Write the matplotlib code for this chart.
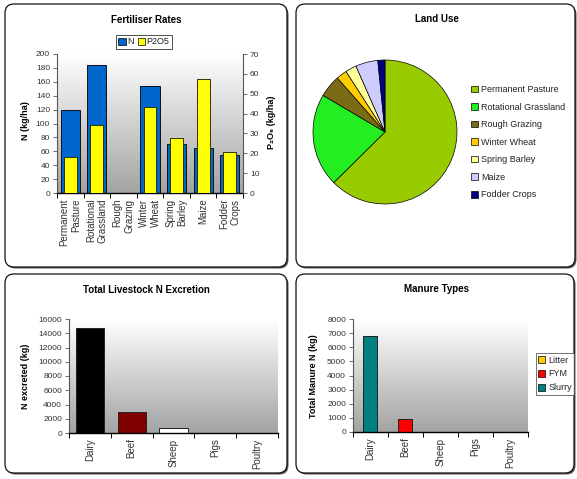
import numpy as np
import matplotlib
matplotlib.use('Agg')
import matplotlib.pyplot as plt
from matplotlib.patches import FancyBboxPatch, Patch
from matplotlib.colors import LinearSegmentedColormap

plt.rcParams['font.family'] = ['Liberation Sans', 'DejaVu Sans']

# ---- data ----
crops = ['Permanent\nPasture', 'Rotational\nGrassland', 'Rough\nGrazing',
         'Winter\nWheat', 'Spring\nBarley', 'Maize', 'Fodder\nCrops']
n_rate = [120, 184, 0, 154, 71, 65, 55]
p2o5_rate = [18, 34, 0, 43.5, 27.5, 57.5, 20.5]

land_use_labels = ['Permanent Pasture', 'Rotational Grassland', 'Rough Grazing',
                   'Winter Wheat', 'Spring Barley', 'Maize', 'Fodder Crops']
land_use_share = [62.6, 20.9, 5.0, 2.4, 2.5, 5.0, 1.6]
land_use_colors = ['#99CC00', '#22EE22', '#7A6B14', '#FFCC00', '#FFFF99', '#CCCCFF', '#000080']

livestock = ['Dairy', 'Beef', 'Sheep', 'Pigs', 'Poultry']
n_excreted = [14800, 3000, 750, 0, 0]
livestock_colors = ['#000000', '#800000', '#FFFFFF', '#FFFFFF', '#FFFFFF']

manure_litter = [0, 0, 0, 0, 0]
manure_fym = [0, 950, 0, 0, 0]
manure_slurry = [6800, 0, 30, 0, 0]

# ---- figure / helpers (pixel based layout) ----
W, H = 577, 479
fig = plt.figure(figsize=(W / 100, H / 100), dpi=100)
canvas = fig.add_axes([0, 0, 1, 1], zorder=-10)
canvas.axis('off')

grad_cmap = LinearSegmentedColormap.from_list('bg', ['#FFFFFF', '#A3A3A3'])
TICK_COLOR = '#333333'
FS_NUM = 6        # numeric tick labels
FS_CAT = 7        # category labels
FS_TITLE = 7
FS_YLAB = 6.5
FS_LEG = 6.5


def panel(x0, y0, x1, y1):
    canvas.add_patch(FancyBboxPatch((x0 + 1.5, y0 + 1.5), x1 - x0, y1 - y0,
                                    boxstyle='round,pad=0,rounding_size=9',
                                    fc='#555555', ec='none', zorder=1))
    canvas.add_patch(FancyBboxPatch((x0, y0), x1 - x0, y1 - y0,
                                    boxstyle='round,pad=0,rounding_size=9',
                                    fc='white', ec='#111111', lw=0.9, zorder=2))


def gradient(l, t, r, b):
    canvas.imshow(np.linspace(0, 1, 256).reshape(-1, 1), extent=[l, r, b, t],
                  cmap=grad_cmap, aspect='auto', zorder=3, interpolation='bilinear')


def px_axes(l, t, r, b):
    return fig.add_axes([l / W, 1 - b / H, (r - l) / W, (b - t) / H])


def ptext(x, y, s, **kw):
    fig.text(x / W, 1 - y / H, s, **kw)


def style_cat_axes(ax, labels):
    ax.set_facecolor('none')
    ax.spines['top'].set_visible(False)
    ax.spines['right'].set_visible(False)
    ax.spines['left'].set_color('#555555')
    ax.spines['left'].set_linewidth(0.8)
    ax.spines['bottom'].set_color('black')
    ax.spines['bottom'].set_linewidth(1.0)
    n = len(labels)
    ax.set_xlim(-0.5, n - 0.5)
    ax.set_xticks(np.arange(n))
    ax.set_xticklabels(labels, rotation=90, fontsize=FS_CAT, color=TICK_COLOR,
                       ha='center', va='top', multialignment='right')
    ax.set_xticks(np.arange(n + 1) - 0.5, minor=True)
    ax.tick_params(axis='x', which='major', length=0, pad=4)
    ax.tick_params(axis='x', which='minor', length=3.5, width=0.7, color='black', direction='out')
    ax.tick_params(axis='y', labelsize=FS_NUM, labelcolor=TICK_COLOR, color='#555555',
                   length=3, width=0.6, direction='out', pad=2)


# panels
panel(5, 4, 287, 267)
panel(296, 4, 575, 267)
panel(5, 274, 287, 473)
panel(296, 274, 574, 473)

# plot-area backgrounds
gradient(57, 54, 243, 193)
gradient(69, 319, 278, 433)
gradient(353, 319, 528, 432)

canvas.set_xlim(0, W)
canvas.set_ylim(H, 0)

# ---- Fertiliser Rates ----
ax1 = px_axes(57, 54, 243, 193)
x = np.arange(len(crops))
ax1.bar(x, n_rate, width=0.72, color='#0066CC', edgecolor='#101010', linewidth=0.7, zorder=2)
ax1.set_ylim(0, 200)
ax1.set_yticks(np.arange(0, 201, 20))
style_cat_axes(ax1, crops)

ax1b = ax1.twinx()
ax1b.set_facecolor('none')
ax1b.bar(x, p2o5_rate, width=0.48, color='#FFFF00', edgecolor='#333300', linewidth=0.7, zorder=3)
ax1b.set_ylim(0, 70)
ax1b.set_yticks(np.arange(0, 71, 10))
ax1b.spines['top'].set_visible(False)
ax1b.spines['left'].set_visible(False)
ax1b.spines['bottom'].set_visible(False)
ax1b.spines['right'].set_color('#555555')
ax1b.spines['right'].set_linewidth(0.8)
ax1b.tick_params(axis='y', labelsize=FS_NUM, labelcolor=TICK_COLOR, color='#555555',
                 length=3, width=0.6, direction='out', pad=2)

ptext(146, 20, 'Fertiliser Rates', ha='center', va='center', fontsize=FS_TITLE, fontweight='bold')
ptext(26, 121, 'N (kg/ha)', rotation=90, ha='center', va='center', fontsize=FS_YLAB, fontweight='bold')
ptext(271, 122, 'P₂O₅ (kg/ha)', rotation=90, ha='center', va='center', fontsize=FS_YLAB, fontweight='bold')

fert_handles = [Patch(facecolor='#0066CC', edgecolor='black', linewidth=0.5, label='N'),
                Patch(facecolor='#FFFF00', edgecolor='black', linewidth=0.5, label='P2O5')]
leg1 = fig.legend(handles=fert_handles, loc='center', bbox_to_anchor=(144 / W, 1 - 42 / H),
                  ncol=2, fontsize=FS_LEG, frameon=True, fancybox=False, edgecolor='black',
                  handlelength=0.8, handleheight=0.8, handletextpad=0.2, columnspacing=0.4,
                  borderpad=0.25, borderaxespad=0)
leg1.get_frame().set_linewidth(0.6)
for t in leg1.get_texts():
    t.set_color('#222222')

# ---- Land Use ----
r = 72
axp = px_axes(385 - r, 132 - r, 385 + r, 132 + r)
axp.pie(land_use_share, colors=land_use_colors, startangle=90, counterclock=False,
        wedgeprops=dict(edgecolor='black', linewidth=0.5))
axp.set_aspect('equal')
axp.set_xlim(-1, 1)
axp.set_ylim(-1, 1)
ptext(437, 19, 'Land Use', ha='center', va='center', fontsize=FS_TITLE, fontweight='bold')

pie_handles = [Patch(facecolor=c, edgecolor='black', linewidth=0.5, label=l)
               for c, l in zip(land_use_colors, land_use_labels)]
leg2 = fig.legend(handles=pie_handles, loc='upper left', bbox_to_anchor=(471 / W, 1 - 85 / H),
                  fontsize=FS_LEG, frameon=False, handlelength=0.75, handleheight=0.75,
                  handletextpad=0.4, labelspacing=0.95, borderpad=0, borderaxespad=0)
for t in leg2.get_texts():
    t.set_color('#222222')

# ---- Total Livestock N Excretion ----
ax3 = px_axes(69, 319, 278, 433)
xl = np.arange(len(livestock))
ax3.bar(xl, n_excreted, width=0.67, color=livestock_colors, edgecolor='#222222', linewidth=0.7, zorder=2)
ax3.set_ylim(0, 16000)
ax3.set_yticks(np.arange(0, 16001, 2000))
style_cat_axes(ax3, livestock)
ptext(146, 290, 'Total Livestock N Excretion', ha='center', va='center', fontsize=FS_TITLE, fontweight='bold')
ptext(25, 376, 'N excreted (kg)', rotation=90, ha='center', va='center', fontsize=FS_YLAB, fontweight='bold')

# ---- Manure Types ----
ax4 = px_axes(353, 319, 528, 432)
xm = np.arange(len(livestock))
litter = np.array(manure_litter)
fym = np.array(manure_fym)
slurry = np.array(manure_slurry)
ax4.bar(xm, slurry, width=0.4, color='#008080', edgecolor='#222222', linewidth=0.7, zorder=2)
ax4.bar(xm, fym, width=0.4, bottom=slurry, color='#FF0000', edgecolor='#222222', linewidth=0.7, zorder=2)
ax4.bar(xm, litter, width=0.4, bottom=slurry + fym, color='#FFCC00', edgecolor='#222222', linewidth=0.7, zorder=2)
ax4.set_ylim(0, 8000)
ax4.set_yticks(np.arange(0, 8001, 1000))
style_cat_axes(ax4, livestock)
ptext(436, 289, 'Manure Types', ha='center', va='center', fontsize=FS_TITLE, fontweight='bold')
ptext(314, 376, 'Total Manure N (kg)', rotation=90, ha='center', va='center', fontsize=FS_YLAB, fontweight='bold')

man_handles = [Patch(facecolor='#FFCC00', edgecolor='black', linewidth=0.5, label='Litter'),
               Patch(facecolor='#FF0000', edgecolor='black', linewidth=0.5, label='FYM'),
               Patch(facecolor='#008080', edgecolor='black', linewidth=0.5, label='Slurry')]
leg3 = fig.legend(handles=man_handles, loc='center', bbox_to_anchor=(555 / W, 1 - 374 / H),
                  fontsize=FS_LEG, frameon=True, fancybox=False, edgecolor='#333333',
                  handlelength=0.8, handleheight=0.8, handletextpad=0.3,
                  labelspacing=0.55, borderpad=0.3, borderaxespad=0)
leg3.get_frame().set_linewidth(0.6)
for t in leg3.get_texts():
    t.set_color('#222222')

fig.savefig('out.png', dpi=100)
